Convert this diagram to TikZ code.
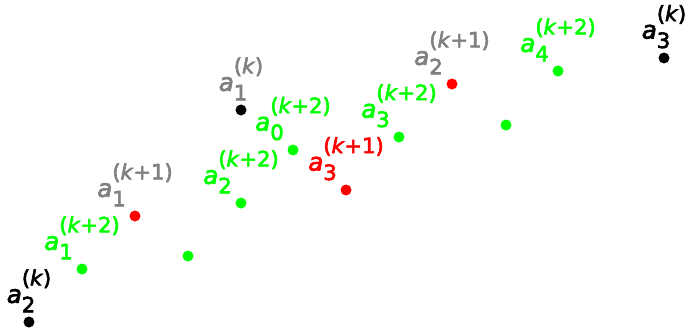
\documentclass[tikz,border=0pt]{standalone}
\usepackage{fontspec}
\setmainfont{DejaVu Sans}[FakeBold=3]
\usepackage{tikz}
\usetikzlibrary{positioning}
\usepackage{xcolor}

\definecolor{ptgreen}{RGB}{0,255,0}
\definecolor{ptred}{RGB}{255,0,0}
\definecolor{ptgray}{RGB}{128,128,128}

% label a_{i}^{(k...)} with sub and sup stacked
\newcommand{\alab}[2]{\textit{a}\rlap{\raisebox{-0.7ex}{\fontsize{12}{12}\selectfont #1}}\raisebox{1.3ex}{\fontsize{12}{12}\selectfont(\textit{k}#2)}}

\begin{document}
\begin{tikzpicture}[x=0.02cm, y=-0.02cm,
  pt/.style={circle, inner sep=0pt, minimum size=0.22cm},
  lab/.style={inner sep=0pt, font=\fontsize{14}{14}\selectfont}]
  \useasboundingbox (0,0) rectangle (686,328);
  % black points
  \node[pt, fill=black] (k2) at (29,322) {};
  \node[pt, fill=black] (k1) at (241,110) {};
  \node[pt, fill=black] (k3) at (664,58) {};
  % red points
  \node[pt, fill=ptred] (r1) at (135,216) {};
  \node[pt, fill=ptred] (r3) at (346,190) {};
  \node[pt, fill=ptred] (r2) at (452,84) {};
  % green points
  \node[pt, fill=ptgreen] (g1) at (82,269) {};
  \node[pt, fill=ptgreen] (ga) at (188,256) {};
  \node[pt, fill=ptgreen] (g2) at (241,203) {};
  \node[pt, fill=ptgreen] (g0) at (293,150) {};
  \node[pt, fill=ptgreen] (g3) at (399,137) {};
  \node[pt, fill=ptgreen] (gb) at (506,125) {};
  \node[pt, fill=ptgreen] (g4) at (558,71) {};
  % labels
  \node[lab, above=2pt of k2, text=black] (k2lab) {\alab{2}{}};
  \node[lab, above=2pt of k1, text=ptgray] (k1lab) {\alab{1}{}};
  \node[lab, above=2pt of k3, text=black] (k3lab) {\alab{3}{}};
  \node[lab, above=2pt of r1, text=ptgray] (r1lab) {\alab{1}{+1}};
  \node[lab, above=2pt of r3, text=ptred] (r3lab) {\alab{3}{+1}};
  \node[lab, above=2pt of r2, text=ptgray] (r2lab) {\alab{2}{+1}};
  \node[lab, above=2pt of g1, text=ptgreen] (g1lab) {\alab{1}{+2}};
  \node[lab, above=2pt of g2, text=ptgreen] (g2lab) {\alab{2}{+2}};
  \node[lab, above=2pt of g0, text=ptgreen] (g0lab) {\alab{0}{+2}};
  \node[lab, above=2pt of g3, text=ptgreen] (g3lab) {\alab{3}{+2}};
  \node[lab, above=2pt of g4, text=ptgreen] (g4lab) {\alab{4}{+2}};
\end{tikzpicture}
\end{document}
